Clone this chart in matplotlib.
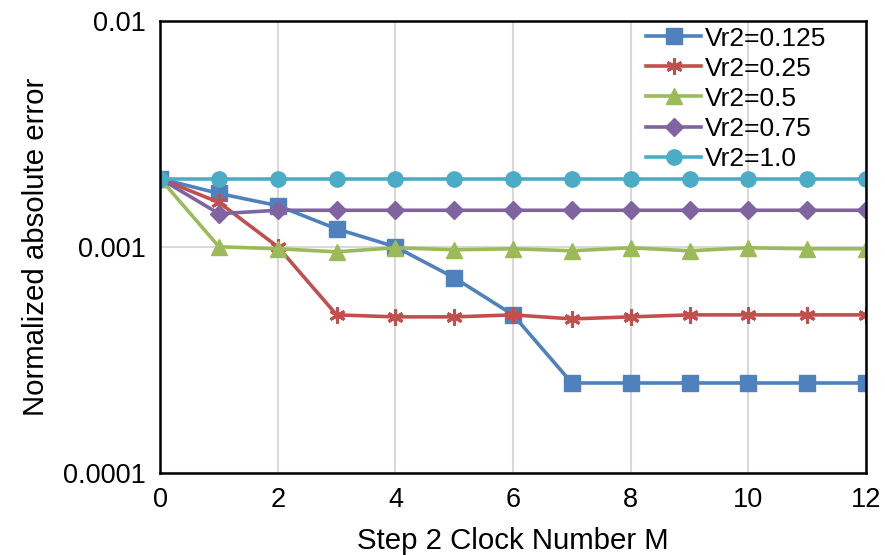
import matplotlib
matplotlib.use("Agg")
import matplotlib.pyplot as plt
from matplotlib.ticker import FixedLocator, NullLocator, FixedFormatter

plt.rcParams['font.family'] = ['Liberation Sans', 'DejaVu Sans']

x = list(range(13))
labels = ["Vr2=0.125", "Vr2=0.25", "Vr2=0.5", "Vr2=0.75", "Vr2=1.0"]
vr0125 = [0.002, 0.00172, 0.00152, 0.0012, 0.001, 0.00073, 0.0005, 0.00025, 0.00025, 0.00025, 0.00025, 0.00025, 0.00025]
vr025 = [0.002, 0.00157, 0.001, 0.0005, 0.00049, 0.00049, 0.0005, 0.00048, 0.00049, 0.0005, 0.0005, 0.0005, 0.0005]
vr05 = [0.002, 0.001, 0.00098, 0.00095, 0.00099, 0.00097, 0.00098, 0.00096, 0.00099, 0.00096, 0.00099, 0.00098, 0.00098]
vr075 = [0.002, 0.0014, 0.00145, 0.00145, 0.00145, 0.00145, 0.00145, 0.00145, 0.00145, 0.00145, 0.00145, 0.00145, 0.00145]
vr10 = [0.002] * 13
series = [vr0125, vr025, vr05, vr075, vr10]
colors = ["#4F81BD", "#C0504D", "#9BBB59", "#8064A2", "#4BACC6"]
markers = ["s", (6, 2, 0), "^", "D", "o"]
msizes = [11, 11.5, 11, 9.5, 11]

fig = plt.figure(figsize=(8.85, 5.55), dpi=100)
ax = fig.add_axes([0.181, 0.1477, 0.7975, 0.8153])

for y, c, m, ms, lab in zip(series, colors, markers, msizes, labels):
    kw = dict(color=c, marker=m, markersize=ms, linewidth=2.6, label=lab,
              markerfacecolor=c, markeredgecolor=c)
    if isinstance(m, tuple):
        kw['markeredgewidth'] = 2.2
    ax.plot(x, y, **kw)

ax.set_yscale('log')
ax.set_ylim(1e-4, 1e-2)
ax.set_xlim(0, 12)
ax.xaxis.set_major_locator(FixedLocator([0, 2, 4, 6, 8, 10, 12]))
ax.yaxis.set_major_locator(FixedLocator([1e-4, 1e-3, 1e-2]))
ax.yaxis.set_major_formatter(FixedFormatter(["0.0001", "0.001", "0.01"]))
ax.yaxis.set_minor_locator(NullLocator())
ax.grid(True, which='major', color='#D9D9D9', linewidth=1.5)
ax.set_axisbelow(True)
ax.tick_params(axis='both', length=0, labelsize=19.5, pad=10)
for s in ax.spines.values():
    s.set_linewidth(1.8)
    s.set_color('black')
    s.set_zorder(5)

ax.set_xlabel("Step 2 Clock Number M", fontsize=21.2, labelpad=10)
ax.set_ylabel("Normalized absolute error", fontsize=21.2, labelpad=10)

leg = ax.legend(loc='upper right', fontsize=19, frameon=False, handlelength=2.08,
                labelspacing=0.23, handletextpad=0.12, borderaxespad=0.0,
                bbox_to_anchor=(0.958, 1.01))

fig.savefig("out.png", dpi=100)
